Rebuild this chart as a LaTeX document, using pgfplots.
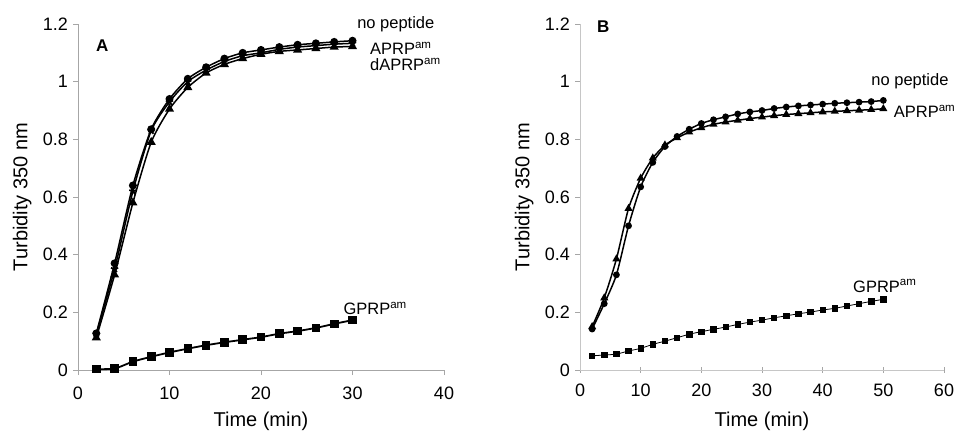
\documentclass[border=0pt]{standalone}
\usepackage{pgfplots}
\pgfplotsset{compat=1.18}
\usepackage{fontspec}
\setmainfont{Liberation Sans}
\tikzset{lab/.style={font=\fontsize{16.5}{19}\selectfont, anchor=base west, inner sep=0pt}}
\begin{document}
\begin{tikzpicture}
\path[use as bounding box] (0,0) rectangle (955pt,436pt);
\pgfplotsset{
  myax/.style={
    scale only axis, height=346pt,
    ymin=0, ymax=1.2, ytick={0,0.2,...,1.2},
    yticklabels={0,0.2,0.4,0.6,0.8,1,1.2},
    axis lines*=left,
    axis line style={gray!70, line width=0.8pt, -},
    tick style={gray!70, line width=0.8pt},
    major tick length=5pt,
    tick align=outside,
    clip=false,
    font=\fontsize{18}{21}\selectfont,
    /pgf/number format/assume math mode=true,
    ticklabel style={font=\fontsize{18}{21}\selectfont},
    xticklabel style={yshift=-8pt},
    yticklabel style={xshift=-1.5pt},
    xlabel={Time (min)}, ylabel={Turbidity 350 nm},
    label style={font=\fontsize{20}{23}\selectfont},
    xlabel style={at={(axis description cs:0.5,0)}, anchor=north, yshift=-38pt},
    ylabel style={at={(axis description cs:0,0.5)}, anchor=south, yshift=43pt},
    every axis plot/.append style={black, line width=1.8pt, smooth, tension=0.4},
  },
}
% Panel A
\begin{axis}[myax, at={(78pt,66pt)}, anchor=south west, width=366pt,
  xmin=0, xmax=40, xtick={0,10,20,30,40}]
\addplot[mark=square*, mark size=3.4pt, mark options={solid}] coordinates {
(2,0.003)(4,0.005)(6,0.029)(8,0.046)(10,0.061)(12,0.074)(14,0.086)(16,0.096)
(18,0.105)(20,0.114)(22,0.126)(24,0.135)(26,0.146)(28,0.160)(30,0.173)};
\addplot[mark=triangle*, mark size=3.8pt, line width=1.5pt] coordinates {
(2,0.112)(4,0.330)(6,0.580)(8,0.790)(10,0.905)(12,0.980)(14,1.030)(16,1.060)
(18,1.080)(20,1.095)(22,1.105)(24,1.110)(26,1.115)(28,1.120)(30,1.122)};
\addplot[mark=star, mark size=3.8pt, line width=1.5pt, mark options={line width=1.8pt}] coordinates {
(2,0.125)(4,0.350)(6,0.620)(8,0.830)(10,0.930)(12,1.000)(14,1.040)(16,1.070)
(18,1.090)(20,1.100)(22,1.112)(24,1.120)(26,1.125)(28,1.130)(30,1.133)};
\addplot[mark=*, mark size=3.2pt, line width=1.5pt] coordinates {
(2,0.127)(4,0.370)(6,0.640)(8,0.835)(10,0.940)(12,1.010)(14,1.050)(16,1.080)
(18,1.100)(20,1.110)(22,1.120)(24,1.128)(26,1.133)(28,1.138)(30,1.142)};
\node[lab] at (axis cs:30.5,1.185) {no peptide};
\node[lab] at (axis cs:31.9,1.0925) {APRP\textsuperscript{am}};
\node[lab] at (axis cs:31.9,1.037) {dAPRP\textsuperscript{am}};
\node[lab] at (axis cs:29.0,0.191) {GPRP\textsuperscript{am}};
\node[lab, font=\fontsize{17}{20}\selectfont\bfseries] at (axis cs:1.97,1.103) {A};
\end{axis}
% Panel B
\begin{axis}[myax, at={(580pt,66pt)}, anchor=south west, width=364pt,
  xmin=0, xmax=60, xtick={0,10,...,60},
  x axis line style={gray!45}, y axis line style={gray!45},
  xtick align=center]
\addplot[mark=square*, mark size=2.7pt, line width=0.8pt, mark options={solid}] coordinates {
(2,0.049)(4,0.052)(6,0.055)(8,0.066)(10,0.075)(12,0.089)(14,0.100)(16,0.112)
(18,0.124)(20,0.133)(22,0.141)(24,0.149)(26,0.158)(28,0.166)(30,0.173)(32,0.181)
(34,0.188)(36,0.195)(38,0.201)(40,0.208)(42,0.214)(44,0.222)(46,0.230)(48,0.238)(50,0.245)};
\addplot[mark=triangle*, mark size=3.2pt, line width=1.5pt] coordinates {
(2,0.150)(4,0.250)(6,0.385)(8,0.560)(10,0.665)(12,0.735)(14,0.780)(16,0.805)
(18,0.825)(20,0.840)(22,0.852)(24,0.860)(26,0.866)(28,0.872)(30,0.877)(32,0.882)
(34,0.886)(36,0.889)(38,0.892)(40,0.895)(42,0.897)(44,0.899)(46,0.901)(48,0.903)(50,0.906)};
\addplot[mark=*, mark size=2.6pt, line width=1.5pt] coordinates {
(2,0.142)(4,0.230)(6,0.330)(8,0.500)(10,0.635)(12,0.720)(14,0.775)(16,0.810)
(18,0.835)(20,0.855)(22,0.868)(24,0.878)(26,0.888)(28,0.895)(30,0.900)(32,0.907)
(34,0.912)(36,0.916)(38,0.919)(40,0.922)(42,0.925)(44,0.927)(46,0.929)(48,0.931)(50,0.935)};
\node[lab] at (axis cs:48.0,0.988) {no peptide};
\node[lab] at (axis cs:51.7,0.874) {APRP\textsuperscript{am}};
\node[lab] at (axis cs:45.0,0.27) {GPRP\textsuperscript{am}};
\node[lab, font=\fontsize{17}{20}\selectfont\bfseries] at (axis cs:2.8,1.169) {B};
\end{axis}
\end{tikzpicture}
\end{document}
